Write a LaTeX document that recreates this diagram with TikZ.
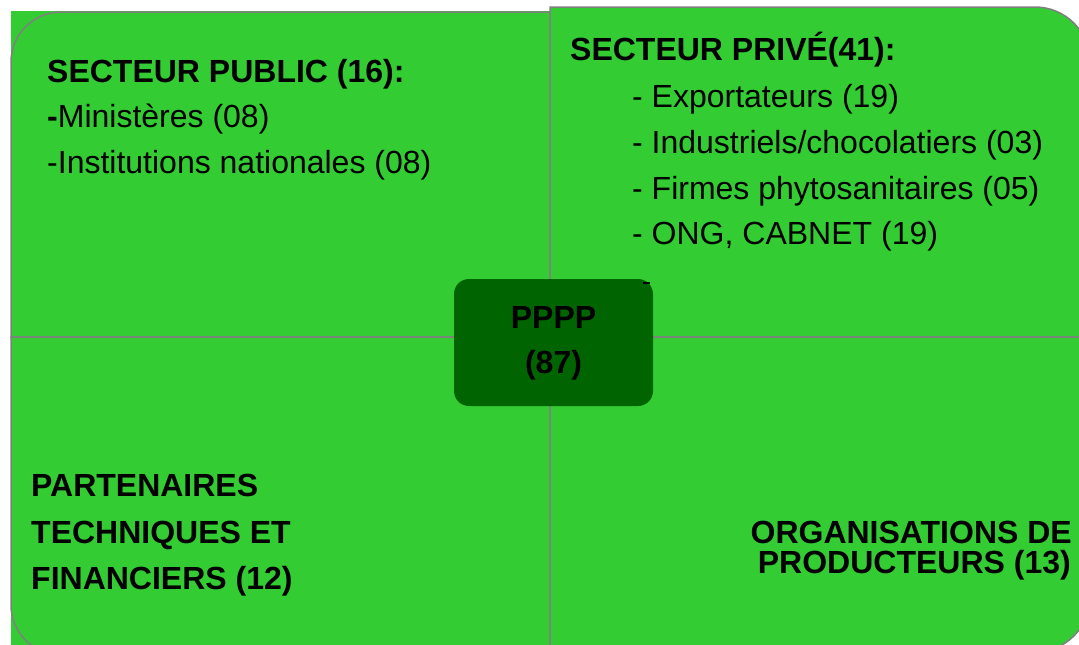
\documentclass[tikz,border=0pt]{standalone}
\usepackage{fontspec}
\setmainfont{Liberation Sans}
\definecolor{quadgreen}{RGB}{51,204,51}
\definecolor{centergreen}{RGB}{0,100,0}
\definecolor{edgegray}{RGB}{128,128,128}
\begin{document}
\begin{tikzpicture}[x=1pt,y=-1pt,
  quad/.style={fill=quadgreen,draw=edgegray,line width=1.5pt},
  lbl/.style={anchor=base west,inner sep=0pt,font=\fontsize{32}{36}\selectfont},
  head/.style={anchor=base west,inner sep=0pt,font=\fontsize{32}{36}\selectfont\bfseries},
  headr/.style={anchor=base east,inner sep=0pt,font=\fontsize{32}{36}\selectfont\bfseries},
  headc/.style={anchor=base,inner sep=0pt,font=\fontsize{32}{36}\selectfont\bfseries},
  centerbox/.style={fill=centergreen,draw=none,rounded corners=15pt,minimum width=199pt,minimum height=127pt,inner sep=0pt}
]
\useasboundingbox (0,0) rectangle (1079,645);
\fill[quadgreen] (11,11) rectangle (551,645);
% top-left quadrant
\draw[quad] (550,337) -- (11,337) -- (11,62) .. controls (11,34.4) and (33.4,12) .. (61,12) -- (550,12) -- cycle;
% top-right quadrant
\draw[quad] (550,337) -- (550,7) -- (1035,7) .. controls (1065.4,7) and (1090,31.6) .. (1090,62) -- (1090,337) -- cycle;
% bottom-left quadrant
\draw[quad] (550,337) -- (11,337) -- (11,605) .. controls (11,632.6) and (33.4,655) .. (61,655) -- (550,655) -- cycle;
% bottom-right quadrant
\draw[quad] (550,337) -- (1090,337) -- (1090,597) .. controls (1090,627.4) and (1065.4,652) .. (1035,652) -- (550,652) -- cycle;

% top-left texts
\node[head] (pub) at (47,82) {SECTEUR PUBLIC (16):};
\node[lbl] (pub1) at (47,127) {{\bfseries -}Ministères (08)};
\node[lbl] (pub2) at (47,173) {-Institutions nationales (08)};

% top-right texts
\node[head] (priv) at (570,60) {SECTEUR PRIVÉ(41):};
\node[lbl] (priv1) at (632,107) {- Exportateurs (19)};
\node[lbl] (priv2) at (632,153) {- Industriels/chocolatiers (03)};
\node[lbl] (priv3) at (632,199) {- Firmes phytosanitaires (05)};
\node[lbl] (priv4) at (632,244) {- ONG, CABNET (19)};

% bottom-left texts
\node[head] (ptf1) at (31,496) {PARTENAIRES};
\node[head] (ptf2) at (31,543) {TECHNIQUES ET};
\node[head] (ptf3) at (31,589) {FINANCIERS (12)};

% bottom-right texts
\node[headr] (op1) at (1072,543) {ORGANISATIONS DE};
\node[headr] (op2) at (1071,573) {PRODUCTEURS (13)};

% center
\node[centerbox] (pppp) at (553.5,342.5) {};
\node[headc] (pppp1) at (553.5,328) {PPPP};
\node[headc] (pppp2) at (553.5,373) {(87)};
\draw[line width=2pt] (643,283) -- (650,283);
\end{tikzpicture}
\end{document}
